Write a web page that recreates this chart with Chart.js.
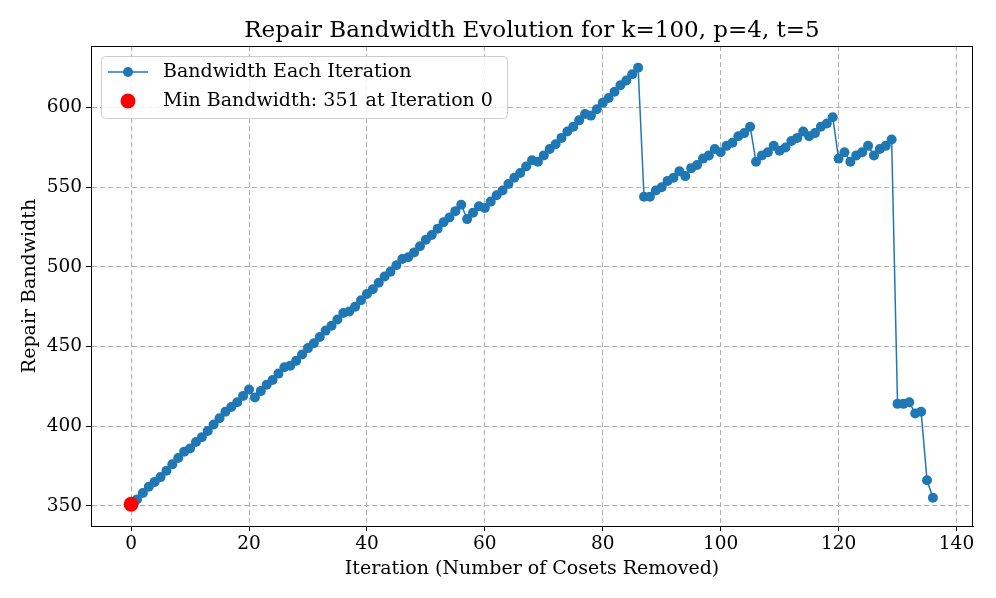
<!DOCTYPE html>
<html>
<head>
<meta charset="utf-8">
<script src="https://cdn.jsdelivr.net/npm/chart.js@4"></script>
<style>
html,body{margin:0;padding:0;background:#fff;}
#c{display:block;}
</style>
</head>
<body>
<canvas id="c" width="996" height="598"></canvas>
<script>
const chartTitle = "Repair Bandwidth Evolution for k=100, p=4, t=5";
const xLabel = "Iteration (Number of Cosets Removed)";
const yLabel = "Repair Bandwidth";
const seriesName = "Bandwidth Each Iteration";
const minName = "Min Bandwidth: 351 at Iteration 0";

const iterations = [0,1,2,3,4,5,6,7,8,9,10,11,12,13,14,15,16,17,18,19,20,21,22,23,24,25,26,27,28,29,30,31,32,33,34,35,36,37,38,39,40,41,42,43,44,45,46,47,48,49,50,51,52,53,54,55,56,57,58,59,60,61,62,63,64,65,66,67,68,69,70,71,72,73,74,75,76,77,78,79,80,81,82,83,84,85,86,87,88,89,90,91,92,93,94,95,96,97,98,99,100,101,102,103,104,105,106,107,108,109,110,111,112,113,114,115,116,117,118,119,120,121,122,123,124,125,126,127,128,129,130,131,132,133,134,135,136];
const bandwidth = [351,354,358,362,365,368,372,376,380,384,386,390,393,397,401,405,409,412,415,419,423,418,422,426,429,433,437,438,441,445,449,452,456,460,463,467,471,472,475,479,483,486,490,494,497,501,505,506,509,513,517,520,524,528,531,535,539,530,534,538,537,541,545,548,552,556,559,563,567,566,570,574,577,581,585,588,592,596,595,599,603,606,610,614,617,621,625,544,544,548,550,554,556,560,557,562,564,568,570,574,572,576,578,582,584,588,566,570,572,576,573,575,579,581,585,582,584,588,590,594,568,572,566,570,572,576,570,574,576,580,414,414,415,408,409,366,355];
const minIteration = [0];
const minBandwidth = [351];

const xTicks = [0,20,40,60,80,100,120,140];
const yTicks = [350,400,450,500,550,600];

const serif = "'DejaVu Serif', serif";

const frame = {
  id: 'frame',
  afterDraw(chart){
    const {ctx, chartArea:a} = chart;
    ctx.save();
    ctx.strokeStyle = '#000';
    ctx.lineWidth = 1;
    ctx.strokeRect(Math.round(a.left)+0.5, Math.round(a.top)+0.5, Math.round(a.right-a.left)-1, Math.round(a.bottom-a.top));
    // axes title, centred over the plot area
    ctx.fillStyle = '#000';
    ctx.font = "23px " + serif;
    ctx.textAlign = 'center';
    ctx.textBaseline = 'middle';
    ctx.fillText(chartTitle, (a.left + a.right) / 2, 30.8);
    ctx.restore();
  }
};

const legendBox = {
  id: 'legendBox',
  afterDatasetsDraw(chart){
    const {ctx} = chart;
    const x0 = 101.5, y0 = 56.5, w = 406, h = 62, r = 4;
    ctx.save();
    ctx.beginPath();
    ctx.moveTo(x0+r, y0);
    ctx.lineTo(x0+w-r, y0); ctx.arcTo(x0+w, y0, x0+w, y0+r, r);
    ctx.lineTo(x0+w, y0+h-r); ctx.arcTo(x0+w, y0+h, x0+w-r, y0+h, r);
    ctx.lineTo(x0+r, y0+h); ctx.arcTo(x0, y0+h, x0, y0+h-r, r);
    ctx.lineTo(x0, y0+r); ctx.arcTo(x0, y0, x0+r, y0, r);
    ctx.closePath();
    ctx.fillStyle = 'rgba(255,255,255,0.8)';
    ctx.fill();
    ctx.strokeStyle = '#cccccc';
    ctx.lineWidth = 1;
    ctx.stroke();
    // entry 1
    ctx.strokeStyle = '#1f77b4';
    ctx.lineWidth = 1.5;
    ctx.beginPath(); ctx.moveTo(108, 72); ctx.lineTo(148, 72); ctx.stroke();
    ctx.fillStyle = '#1f77b4';
    ctx.beginPath(); ctx.arc(128, 72, 5, 0, Math.PI*2); ctx.fill();
    // entry 2
    ctx.fillStyle = 'red';
    ctx.beginPath(); ctx.arc(128, 101, 7.5, 0, Math.PI*2); ctx.fill();
    ctx.fillStyle = '#000';
    ctx.font = "19px " + serif;
    ctx.textBaseline = 'middle';
    ctx.textAlign = 'left';
    ctx.fillText(seriesName, 163, 72);
    ctx.fillText(minName, 163, 101);
    ctx.restore();
  }
};

new Chart(document.getElementById('c'), {
  type: 'line',
  data: {
    datasets: [
      {
        label: minName,
        data: minIteration.map((x,i)=>({x, y:minBandwidth[i]})),
        showLine: false,
        pointRadius: 7.5,
        pointBackgroundColor: 'red',
        pointBorderWidth: 0,
        borderColor: 'red',
        order: 0
      },
      {
        label: seriesName,
        data: iterations.map((x,i)=>({x, y:bandwidth[i]})),
        borderColor: '#1f77b4',
        borderWidth: 1.5,
        pointRadius: 5,
        pointBackgroundColor: '#1f77b4',
        pointBorderWidth: 0,
        tension: 0,
        order: 1
      }
    ]
  },
  options: {
    responsive: false,
    animation: false,
    devicePixelRatio: 1,
    layout: { padding: { left: 0, right: 23, top: 46, bottom: 0 } },
    plugins: {
      legend: { display: false },
      tooltip: { enabled: false },
      title: { display: false }
    },
    scales: {
      x: {
        type: 'linear',
        min: -6.8, max: 142.8,
        afterBuildTicks(s){ s.ticks = xTicks.map(v=>({value:v})); },
        afterFit(s){ s.height = 72; },
        ticks: { color: '#000', font: { family: serif, size: 18.5 }, padding: 2, maxRotation: 0, autoSkip: false },
        grid: { color: '#b0b0b0', tickColor: '#000', tickLength: 5, tickBorderDash: [], lineWidth: 1 },
        border: { display: true, color: '#000', width: 1, dash: [5,3] },
        title: { display: true, text: xLabel, color: '#000', font: { family: serif, size: 19 }, padding: { top: 4, bottom: 18 } }
      },
      y: {
        type: 'linear',
        min: 337.3, max: 638.7,
        afterBuildTicks(s){ s.ticks = yTicks.map(v=>({value:v})); },
        afterFit(s){ s.width = 91; },
        ticks: { color: '#000', font: { family: serif, size: 18.5 }, padding: 4, autoSkip: false },
        grid: { color: '#b0b0b0', tickColor: '#000', tickLength: 5, tickBorderDash: [], lineWidth: 1 },
        border: { display: true, color: '#000', width: 1, dash: [5,3] },
        title: { display: true, text: yLabel, color: '#000', font: { family: serif, size: 19 }, padding: { top: 19, bottom: 4 } }
      }
    }
  },
  plugins: [frame, legendBox]
});
</script>
</body>
</html>
